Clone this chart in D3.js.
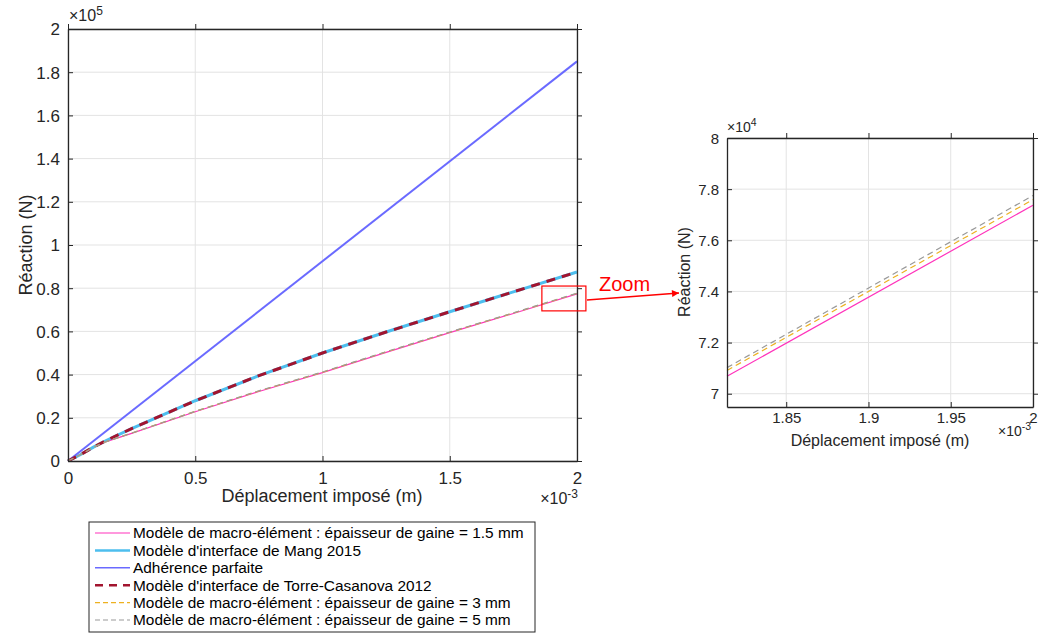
<!DOCTYPE html>
<html><head><meta charset="utf-8">
<script src="https://cdn.jsdelivr.net/npm/d3@7"></script>
<style>body{margin:0;background:#fff}text{font-family:"Liberation Sans",Arial,sans-serif}</style>
</head><body><svg id="c" width="1054" height="634"></svg>
<script>
// x in metres
const xMain = [0, 0.00005, 0.0001, 0.00015, 0.00025, 0.0005, 0.00075, 0.001, 0.00125, 0.0015, 0.00175, 0.002];
const macro15 = [0, 3000, 6300, 9000, 12800, 22800, 32200, 40900, 50300, 59400, 68300, 77400];
const mang = [0, 3000, 6400, 9500, 15000, 27900, 39500, 50000, 59700, 69100, 78300, 87500];
const torre = [0, 3000, 6400, 9500, 15000, 27900, 39500, 50000, 59700, 69100, 78300, 87500];
const macro3 = [0, 3000, 6300, 9000, 12900, 23000, 32400, 41100, 50500, 59600, 68500, 77600];
const macro5 = [0, 3000, 6300, 9000, 12900, 23000, 32500, 41200, 50600, 59700, 68600, 77700];
const xPerfect = [0, 0.002];
const perfect = [0, 185000];
// zoom data
const xZoom = [0.001814, 0.002];
const z15 = [70680, 77370];
const z3 = [70910, 77590];
const z5 = [71020, 77750];

const mainYTicks = [0, 0.2, 0.4, 0.6, 0.8, 1, 1.2, 1.4, 1.6, 1.8, 2];
const mainXTicks = [0, 0.5, 1, 1.5, 2];
const zoomXTicks = [1.85, 1.9, 1.95, 2];
const zoomYTicks = [7, 7.2, 7.4, 7.6, 7.8, 8];

const series = [
  {name: "Modèle de macro-élément : épaisseur de gaine = 1.5 mm", x: xMain, y: macro15, zx: xZoom, zy: z15, color: "#ff33bb", w: 1.2, dash: null},
  {name: "Modèle d'interface de Mang 2015", x: xMain, y: mang, color: "#4dbeee", w: 3, dash: null},
  {name: "Adhérence parfaite", x: xPerfect, y: perfect, color: "#6a6aff", w: 2, dash: null},
  {name: "Modèle d'interface de Torre-Casanova 2012", x: xMain, y: torre, color: "#a2142f", w: 3, dash: "9,7"},
  {name: "Modèle de macro-élément : épaisseur de gaine = 3 mm", x: xMain, y: macro3, zx: xZoom, zy: z3, color: "#edb120", w: 1.2, dash: "6,4"},
  {name: "Modèle de macro-élément : épaisseur de gaine = 5 mm", x: xMain, y: macro5, zx: xZoom, zy: z5, color: "#999999", w: 1.2, dash: "6,4"}
];

const svg = d3.select("#c");
const axisCol = "#262626", gridCol = "#e3e3e3";

function drawAxes(g, x, y, xt, yt) {
  const [x0, x1] = x.range(), [y0, y1] = y.range();
  g.append("rect").attr("x", x0).attr("y", y1).attr("width", x1 - x0).attr("height", y0 - y1).attr("fill", "#fff");
  xt.forEach(t => g.append("line").attr("x1", x(t)).attr("x2", x(t)).attr("y1", y0).attr("y2", y1).attr("stroke", gridCol));
  yt.forEach(t => g.append("line").attr("x1", x0).attr("x2", x1).attr("y1", y(t)).attr("y2", y(t)).attr("stroke", gridCol));
}
function drawFrame(g, x, y, xt, yt, xfmt, yfmt, fs, xpad) {
  const [x0, x1] = x.range(), [y0, y1] = y.range();
  const ax = g.append("g").attr("transform", `translate(0,${y0})`).call(d3.axisBottom(x).tickValues(xt).tickFormat(xfmt).tickSizeInner(-5).tickSizeOuter(0).tickPadding(xpad));
  const ay = g.append("g").attr("transform", `translate(${x0},0)`).call(d3.axisLeft(y).tickValues(yt).tickFormat(yfmt).tickSizeInner(-5).tickSizeOuter(0).tickPadding(8));
  const at = g.append("g").attr("transform", `translate(0,${y1})`).call(d3.axisTop(x).tickValues(xt).tickFormat("").tickSizeInner(5).tickSizeOuter(0));
  const ar = g.append("g").attr("transform", `translate(${x1},0)`).call(d3.axisRight(y).tickValues(yt).tickFormat("").tickSizeInner(5).tickSizeOuter(0));
  [ax, ay, at, ar].forEach(a => {
    a.selectAll("path").attr("stroke", axisCol).attr("stroke-width", 1.3);
    a.selectAll("line").attr("stroke", axisCol);
    a.selectAll("text").attr("fill", axisCol).style("font-size", fs + "px").style("font-family", "'Liberation Sans',Arial,sans-serif");
  });
  ay.selectAll("text").attr("dy", "0.35em");
}

// Main plot
const xm = d3.scaleLinear().domain([0, 0.002]).range([68, 577]);
const ym = d3.scaleLinear().domain([0, 200000]).range([461, 29]);
const gm = svg.append("g");
drawAxes(gm, xm, ym, mainXTicks.map(v => v * 1e-3), mainYTicks.map(v => v * 1e5));
const cm = gm.append("g");
series.forEach(s => {
  cm.append("path").datum(s.x.map((v, i) => [v, s.y[i]]))
    .attr("d", d3.line().x(d => xm(d[0])).y(d => ym(d[1])))
    .attr("fill", "none").attr("stroke", s.color).attr("stroke-width", s.w)
    .attr("stroke-dasharray", s.dash);
});
drawFrame(gm, xm, ym, mainXTicks.map(v => v * 1e-3), mainYTicks.map(v => v * 1e5), d => d3.format("~g")(+(d * 1e3).toFixed(3)), d => d3.format("~g")(+(d / 1e5).toFixed(3)), 17, 11);

// exponents
function expo(x, y, base, e, fs, anchor) {
  const t = svg.append("text").attr("x", x).attr("y", y).attr("fill", axisCol).style("font-size", fs + "px").attr("text-anchor", anchor || "start");
  t.append("tspan").text("×" + base);
  t.append("tspan").attr("dy", -fs * 0.4).style("font-size", (fs * 0.75) + "px").text(e);
}
expo(69, 21, "10", "5", 16);
expo(578, 504, "10", "-3", 16, "end");

svg.append("text").attr("x", 322).attr("y", 502).attr("text-anchor", "middle").attr("fill", axisCol).style("font-size", "18px").text("Déplacement imposé (m)");
svg.append("text").attr("transform", "translate(32,245) rotate(-90)").attr("text-anchor", "middle").attr("fill", axisCol).style("font-size", "18px").text("Réaction (N)");

// Zoom rectangle + arrow
svg.append("rect").attr("x", xm(0.001862)).attr("y", ym(81000)).attr("width", xm(0.002035) - xm(0.001862)).attr("height", ym(69500) - ym(81000))
  .attr("fill", "none").attr("stroke", "#ff0000").attr("stroke-width", 1.2);
svg.append("defs").append("marker").attr("id", "ah").attr("viewBox", "0 0 10 10").attr("refX", 10).attr("refY", 5)
  .attr("markerWidth", 9).attr("markerHeight", 7).attr("markerUnits", "userSpaceOnUse").attr("orient", "auto")
  .append("path").attr("d", "M0,0L10,5L0,10z").attr("fill", "#ff0000");
svg.append("line").attr("x1", 587).attr("y1", 300).attr("x2", 679).attr("y2", 293).attr("stroke", "#ff0000").attr("stroke-width", 1.3).attr("marker-end", "url(#ah)");
svg.append("text").attr("x", 599).attr("y", 291).attr("fill", "#ff0000").style("font-size", "20px").text("Zoom");

// Zoom plot
const xz = d3.scaleLinear().domain([0.001814, 0.002]).range([727, 1033]);
const yz = d3.scaleLinear().domain([69480, 80000]).range([407, 138]);
const gz = svg.append("g");
drawAxes(gz, xz, yz, zoomXTicks.map(v => v * 1e-3), zoomYTicks.map(v => v * 1e4));
const cz = gz.append("g");
series.filter(s => s.zx).forEach(s => {
  cz.append("path").datum(s.zx.map((v, i) => [v, s.zy[i]]))
    .attr("d", d3.line().x(d => xz(d[0])).y(d => yz(d[1])))
    .attr("fill", "none").attr("stroke", s.color).attr("stroke-width", s.w)
    .attr("stroke-dasharray", s.dash);
});
drawFrame(gz, xz, yz, zoomXTicks.map(v => v * 1e-3), zoomYTicks.map(v => v * 1e4), d => d3.format("~g")(+(d * 1e3).toFixed(3)), d => d3.format("~g")(+(d / 1e4).toFixed(3)), 15, 5);
expo(727, 132, "10", "4", 14);
expo(998, 436, "10", "-3", 14);
svg.append("text").attr("x", 880).attr("y", 446).attr("text-anchor", "middle").attr("fill", axisCol).style("font-size", "16px").text("Déplacement imposé (m)");
svg.append("text").attr("transform", "translate(690,272) rotate(-90)").attr("text-anchor", "middle").attr("fill", axisCol).style("font-size", "16px").text("Réaction (N)");

// Legend
const lg = svg.append("g");
lg.append("rect").attr("x", 89).attr("y", 522).attr("width", 446).attr("height", 110).attr("fill", "#fff").attr("stroke", "#262626").attr("stroke-width", 1);
series.forEach((s, i) => {
  const yy = 533 + i * 17.4;
  lg.append("line").attr("x1", 95).attr("x2", 130).attr("y1", yy).attr("y2", yy)
    .attr("stroke", s.color).attr("stroke-width", s.w === 3 ? 2.5 : (s.w === 2 ? 1.6 : 1.2))
    .attr("stroke-dasharray", s.dash ? (s.w === 3 ? "8,6" : "5,3") : null);
  lg.append("text").attr("x", 133).attr("y", yy).attr("dy", "0.35em").attr("fill", "#000").style("font-size", "15.4px").text(s.name);
});
</script></body></html>
